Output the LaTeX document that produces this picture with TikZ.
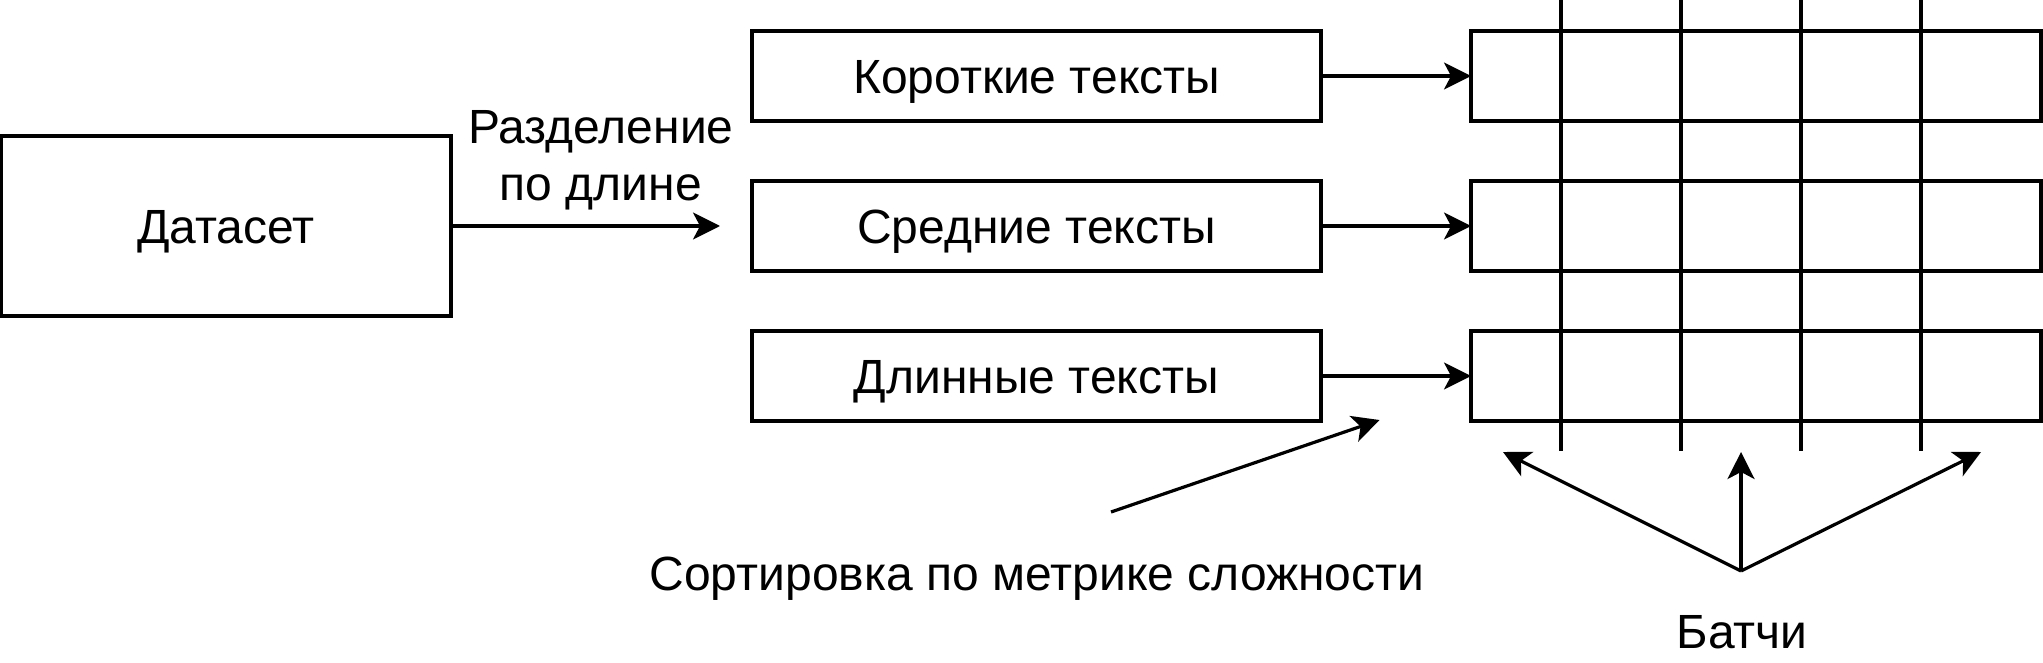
\documentclass[tikz,border=0pt]{standalone}
\usepackage{fontspec}
\setmainfont{Liberation Sans}
\usetikzlibrary{arrows.meta}
\usetikzlibrary{positioning}
\tikzset{
data box/.style = { rectangle, draw = black, line width = 1.6pt, fill = white, minimum width = 225pt, minimum height = 90pt, inner sep = 0pt, outer sep = 0pt, text height = 17.2pt, text depth = 0pt },
group box/.style = { rectangle, draw = black, line width = 1.6pt, fill = white, minimum width = 284.5pt, minimum height = 45pt, inner sep = 0pt, outer sep = 0pt, text height = 17.2pt, text depth = 0pt },
batch row/.style = { rectangle, draw = black, line width = 1.6pt, minimum width = 285pt, minimum height = 45pt, inner sep = 0pt, outer sep = 0pt },
caption/.style = { inner sep = 0pt, text height = 17.2pt, text depth = 0pt },
flow/.style = { draw = black, line width = 1.6pt, -{Stealth[length = 13.5pt, width = 13.5pt, inset = 3.5pt]} },
batch line/.style = { draw = black, line width = 1.6pt },
}

\begin{document}
\begin{tikzpicture}[x = 0.5pt, y = -0.5pt, font = \fontsize{24}{28.5}\selectfont]
    \useasboundingbox (0, 0) rectangle (2043, 663);
    % dataset and split by length
    \node[data box] (dataset) at (226, 226) {Датасет};
    \coordinate (split end) at (720, 226);
    \path[flow] (dataset) -- (split end);
    \node[align = center, inner sep = 0pt] (split label) at (601, 160) {Разделение\\по длине};
    \node[group box] (short) at (1036.5, 76) {Короткие тексты};
    \node[group box] (medium) at (1036.5, 226) {Средние тексты};
    \node[group box] (long) at (1036.5, 376) {Длинные тексты};
    % batch rows
    \node[batch row] (short batches) at (1756, 76) {};
    \node[batch row] (medium batches) at (1756, 226) {};
    \node[batch row] (long batches) at (1756, 376) {};
    \path[flow] (short) -- (short batches);
    \path[flow] (medium) -- (medium batches);
    \path[flow] (long) -- (long batches);
    \path[batch line] (1561, 0) -- (1561, 451);
    \path[batch line] (1681, 0) -- (1681, 451);
    \path[batch line] (1801, 0) -- (1801, 451);
    \path[batch line] (1921, 0) -- (1921, 451);
    % sorting
    \coordinate (sort start) at (1111, 512);
    \coordinate (sort tip) at (1379.5, 420);
    \path[flow] (sort start) -- (sort tip);
    \node[caption] (sort label) at (1037, 573.5) {Сортировка по метрике сложности};
    % batches
    \coordinate (batch root) at (1741, 571);
    \coordinate (left batch) at (1503, 452);
    \coordinate (middle batch) at (1741, 452);
    \coordinate (right batch) at (1981, 452);
    \path[flow] (batch root) -- (left batch);
    \path[flow] (batch root) -- (middle batch);
    \path[flow] (batch root) -- (right batch);
    \node[caption] (batch label) at (1742, 631.5) {Батчи};
\end{tikzpicture}
\end{document}
